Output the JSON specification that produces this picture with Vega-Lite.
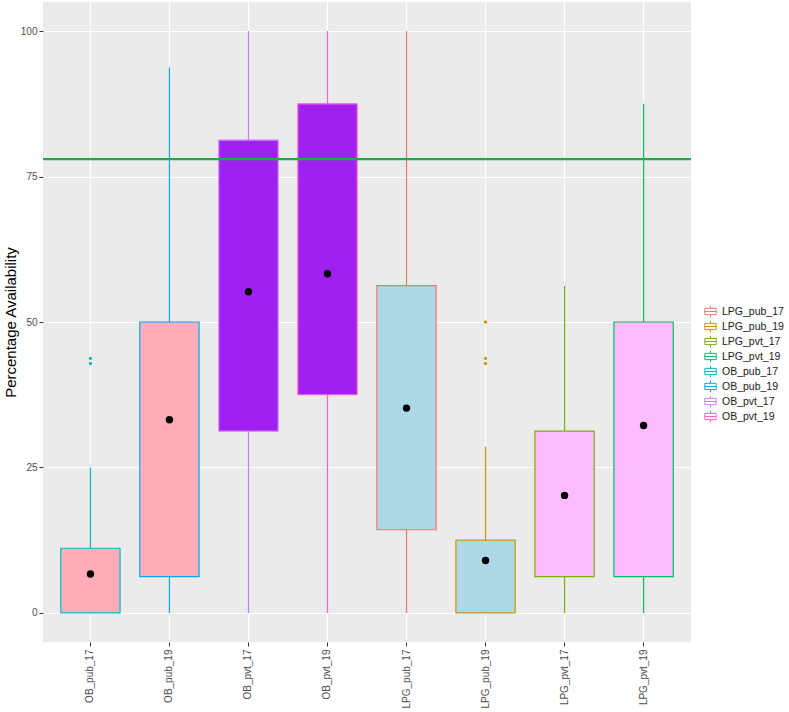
{
  "$schema": "https://vega.github.io/schema/vega-lite/v6.json",
  "width": 648,
  "height": 640,
  "autosize": {"type": "none"},
  "padding": {"left": 43, "top": 2, "right": 98, "bottom": 70},
  "background": "white",
  "config": {
    "font": "Liberation Sans",
    "view": {"fill": "#EBEBEB", "stroke": null},
    "axis": {
      "domain": false,
      "labelFont": "Liberation Sans",
      "labelFontSize": 10,
      "labelColor": "#4D4D4D",
      "tickColor": "#333333",
      "tickSize": 4,
      "gridColor": "white",
      "gridWidth": 1.1,
      "titleFont": "Liberation Sans",
      "titleFontWeight": "normal",
      "titleColor": "black"
    },
    "legend": {
      "title": null,
      "orient": "none",
      "legendX": 661,
      "legendY": 303,
      "symbolType": "M0,-1V-0.55M-1,-0.55H1V0.55H-1ZM-1,0H1M0,0.55V1",
      "symbolSize": 130,
      "symbolStrokeWidth": 1,
      "labelFontSize": 10.5,
      "labelColor": "#1A1A1A",
      "labelOffset": 5,
      "rowPadding": -2
    }
  },
  "datasets": {
    "boxes": [
      {"cat": "OB_pub_17", "grp": "OB_pub", "lower": 0, "q1": 0, "q3": 11.11, "upper": 25, "mean": 6.7},
      {"cat": "OB_pub_19", "grp": "OB_pub", "lower": 0, "q1": 6.25, "q3": 50, "upper": 93.75, "mean": 33.2},
      {"cat": "OB_pvt_17", "grp": "OB_pvt", "lower": 0, "q1": 31.25, "q3": 81.25, "upper": 100, "mean": 55.2},
      {"cat": "OB_pvt_19", "grp": "OB_pvt", "lower": 0, "q1": 37.5, "q3": 87.5, "upper": 100, "mean": 58.3},
      {"cat": "LPG_pub_17", "grp": "LPG_pub", "lower": 0, "q1": 14.29, "q3": 56.25, "upper": 100, "mean": 35.2},
      {"cat": "LPG_pub_19", "grp": "LPG_pub", "lower": 0, "q1": 0, "q3": 12.5, "upper": 28.57, "mean": 9.0},
      {"cat": "LPG_pvt_17", "grp": "LPG_pvt", "lower": 0, "q1": 6.25, "q3": 31.25, "upper": 56.25, "mean": 20.2},
      {"cat": "LPG_pvt_19", "grp": "LPG_pvt", "lower": 0, "q1": 6.25, "q3": 50, "upper": 87.5, "mean": 32.2}
    ],
    "outliers": [
      {"cat": "OB_pub_17", "value": 43.75},
      {"cat": "OB_pub_17", "value": 42.86},
      {"cat": "LPG_pub_19", "value": 50},
      {"cat": "LPG_pub_19", "value": 43.75},
      {"cat": "LPG_pub_19", "value": 42.86}
    ]
  },
  "layer": [
    {
      "data": {"name": "boxes"},
      "mark": {"type": "rule", "strokeWidth": 1.2},
      "encoding": {
        "x": {
          "field": "cat",
          "type": "nominal",
          "sort": ["OB_pub_17", "OB_pub_19", "OB_pvt_17", "OB_pvt_19", "LPG_pub_17", "LPG_pub_19", "LPG_pvt_17", "LPG_pvt_19"],
          "scale": {"paddingInner": 0, "paddingOuter": 0.1},
          "axis": {"title": null, "labelAngle": -90, "labelPadding": 3, "bandPosition": 0.5, "grid": true}
        },
        "y": {
          "field": "lower",
          "type": "quantitative",
          "scale": {"domain": [-5, 105], "nice": false, "zero": false},
          "axis": {"title": "Percentage Availability", "titleFontSize": 15, "titlePadding": 2, "values": [0, 25, 50, 75, 100], "labelPadding": 2}
        },
        "y2": {"field": "upper"},
        "stroke": {
          "field": "cat",
          "type": "nominal",
          "scale": {
            "domain": ["LPG_pub_17", "LPG_pub_19", "LPG_pvt_17", "LPG_pvt_19", "OB_pub_17", "OB_pub_19", "OB_pvt_17", "OB_pvt_19"],
            "range": ["#F8766D", "#CD9600", "#7CAE00", "#00BE67", "#00BFC4", "#00A9FF", "#C77CFF", "#FF61CC"]
          },
          "legend": {"title": null, "encode": {"symbols": {"update": {"fill": {"value": "white"}, "strokeWidth": {"value": 1}}}}}
        }
      }
    },
    {
      "data": {"name": "boxes"},
      "mark": {"type": "bar", "width": {"band": 0.75}, "strokeWidth": 1.2},
      "encoding": {
        "x": {"field": "cat", "type": "nominal", "sort": ["OB_pub_17", "OB_pub_19", "OB_pvt_17", "OB_pvt_19", "LPG_pub_17", "LPG_pub_19", "LPG_pvt_17", "LPG_pvt_19"]},
        "y": {"field": "q1", "type": "quantitative", "axis": null},
        "y2": {"field": "q3"},
        "fill": {
          "field": "grp",
          "type": "nominal",
          "scale": {"domain": ["OB_pub", "OB_pvt", "LPG_pub", "LPG_pvt"], "range": ["#FFAEB9", "#A020F0", "#ADD8E6", "#FFBBFF"]},
          "legend": null
        },
        "stroke": {"field": "cat", "type": "nominal", "legend": {"title": null, "encode": {"symbols": {"update": {"fill": {"value": "white"}, "strokeWidth": {"value": 1}}}}}}
      }
    },
    {
      "data": {"name": "outliers"},
      "mark": {"type": "point", "shape": "circle", "size": 3, "strokeWidth": 1.6, "filled": false, "opacity": 1},
      "encoding": {
        "x": {"field": "cat", "type": "nominal", "sort": ["OB_pub_17", "OB_pub_19", "OB_pvt_17", "OB_pvt_19", "LPG_pub_17", "LPG_pub_19", "LPG_pvt_17", "LPG_pvt_19"]},
        "y": {"field": "value", "type": "quantitative", "axis": null},
        "stroke": {"field": "cat", "type": "nominal", "legend": {"title": null, "encode": {"symbols": {"update": {"fill": {"value": "white"}, "strokeWidth": {"value": 1}}}}}}
      }
    },
    {
      "data": {"name": "boxes"},
      "mark": {"type": "circle", "color": "black", "size": 55, "opacity": 1},
      "encoding": {
        "x": {"field": "cat", "type": "nominal", "sort": ["OB_pub_17", "OB_pub_19", "OB_pvt_17", "OB_pvt_19", "LPG_pub_17", "LPG_pub_19", "LPG_pvt_17", "LPG_pvt_19"]},
        "y": {"field": "mean", "type": "quantitative", "axis": null}
      }
    },
    {
      "data": {"values": [{"h": 78}]},
      "mark": {"type": "rule", "color": "#22A84A", "strokeWidth": 2.2},
      "encoding": {
        "y": {"field": "h", "type": "quantitative", "axis": {"orient": "right", "values": [12.5, 37.5, 62.5, 87.5], "labels": false, "ticks": false, "title": null, "gridWidth": 0.55}}
      }
    }
  ],
  "resolve": {"axis": {"y": "independent"}}
}
